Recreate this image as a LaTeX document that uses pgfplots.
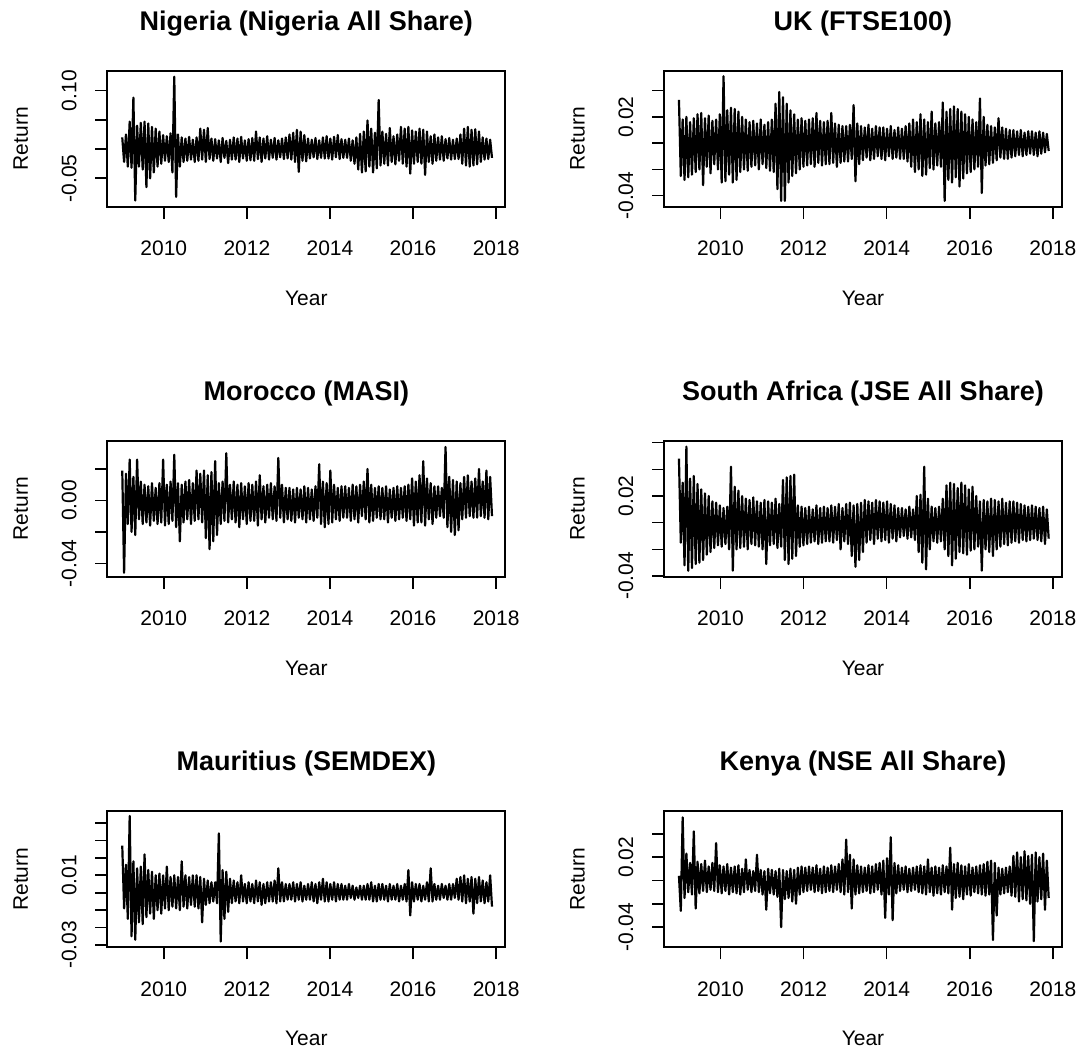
\documentclass[border=0pt]{standalone}
\usepackage{fontspec}
\setmainfont{Liberation Sans}
\usepackage{pgfplots}
\usepackage{pgfplotstable}
\pgfplotsset{compat=1.18}

% Daily return series, sampled on a regular grid from 2009.00 to 2017.90 (200 obs.)
\pgfplotstableread[row sep=\\]{
y\\
0.020\\ -0.022\\ 0.025\\ -0.030\\ 0.047\\ -0.032\\ 0.088\\ -0.088\\ 0.040\\ -0.030\\
0.045\\ -0.035\\ 0.047\\ -0.065\\ 0.044\\ -0.050\\ 0.038\\ -0.040\\ 0.035\\ -0.030\\
0.030\\ -0.025\\ 0.024\\ -0.020\\ 0.022\\ -0.022\\ 0.027\\ -0.040\\ 0.124\\ -0.082\\
0.025\\ -0.030\\ 0.020\\ -0.022\\ 0.018\\ -0.020\\ 0.021\\ -0.018\\ 0.016\\ -0.022\\
0.020\\ -0.020\\ 0.035\\ -0.018\\ 0.033\\ -0.022\\ 0.036\\ -0.017\\ 0.018\\ -0.020\\
0.017\\ -0.016\\ 0.015\\ -0.022\\ 0.019\\ -0.015\\ 0.014\\ -0.024\\ 0.016\\ -0.018\\
0.020\\ -0.018\\ 0.018\\ -0.022\\ 0.021\\ -0.016\\ 0.015\\ -0.020\\ 0.017\\ -0.019\\
0.019\\ -0.020\\ 0.030\\ -0.017\\ 0.020\\ -0.022\\ 0.018\\ -0.016\\ 0.022\\ -0.018\\
0.016\\ -0.015\\ 0.019\\ -0.018\\ 0.015\\ -0.014\\ 0.018\\ -0.017\\ 0.020\\ -0.016\\
0.025\\ -0.018\\ 0.028\\ -0.022\\ 0.033\\ -0.039\\ 0.030\\ -0.020\\ 0.024\\ -0.021\\
0.018\\ -0.016\\ 0.016\\ -0.014\\ 0.019\\ -0.017\\ 0.015\\ -0.015\\ 0.020\\ -0.016\\
0.022\\ -0.016\\ 0.018\\ -0.018\\ 0.021\\ -0.014\\ 0.024\\ -0.017\\ 0.017\\ -0.015\\
0.016\\ -0.015\\ 0.018\\ -0.020\\ 0.015\\ -0.025\\ 0.020\\ -0.035\\ 0.026\\ -0.040\\
0.030\\ -0.038\\ 0.049\\ -0.030\\ 0.035\\ -0.040\\ 0.028\\ -0.033\\ 0.084\\ -0.028\\
0.030\\ -0.025\\ 0.026\\ -0.028\\ 0.036\\ -0.022\\ 0.022\\ -0.026\\ 0.025\\ -0.020\\
0.038\\ -0.025\\ 0.035\\ -0.030\\ 0.038\\ -0.042\\ 0.032\\ -0.025\\ 0.030\\ -0.022\\
0.035\\ -0.025\\ 0.033\\ -0.044\\ 0.030\\ -0.022\\ 0.022\\ -0.025\\ 0.025\\ -0.020\\
0.020\\ -0.018\\ 0.022\\ -0.020\\ 0.017\\ -0.016\\ 0.019\\ -0.018\\ 0.016\\ -0.017\\
0.018\\ -0.017\\ 0.025\\ -0.025\\ 0.035\\ -0.028\\ 0.038\\ -0.030\\ 0.033\\ -0.028\\
0.034\\ -0.026\\ 0.030\\ -0.022\\ 0.020\\ -0.018\\ 0.018\\ -0.017\\ 0.016\\ -0.015\\
}\nigeria

\pgfplotstableread[row sep=\\]{
y\\
0.033\\ -0.025\\ 0.018\\ -0.028\\ 0.020\\ -0.026\\ 0.016\\ -0.024\\ 0.019\\ -0.022\\
0.022\\ -0.020\\ 0.023\\ -0.032\\ 0.019\\ -0.018\\ 0.021\\ -0.023\\ 0.017\\ -0.016\\
0.018\\ -0.020\\ 0.022\\ -0.030\\ 0.051\\ -0.029\\ 0.025\\ -0.024\\ 0.027\\ -0.030\\
0.026\\ -0.028\\ 0.024\\ -0.022\\ 0.020\\ -0.020\\ 0.018\\ -0.021\\ 0.016\\ -0.018\\
0.017\\ -0.017\\ 0.015\\ -0.020\\ 0.018\\ -0.016\\ 0.014\\ -0.019\\ 0.016\\ -0.021\\
0.018\\ -0.022\\ 0.030\\ -0.035\\ 0.039\\ -0.044\\ 0.035\\ -0.044\\ 0.030\\ -0.030\\
0.025\\ -0.025\\ 0.022\\ -0.023\\ 0.018\\ -0.020\\ 0.019\\ -0.018\\ 0.017\\ -0.017\\
0.018\\ -0.016\\ 0.019\\ -0.018\\ 0.023\\ -0.015\\ 0.017\\ -0.017\\ 0.016\\ -0.016\\
0.017\\ -0.016\\ 0.023\\ -0.015\\ 0.015\\ -0.018\\ 0.014\\ -0.015\\ 0.013\\ -0.014\\
0.013\\ -0.014\\ 0.014\\ -0.012\\ 0.029\\ -0.029\\ 0.015\\ -0.016\\ 0.013\\ -0.013\\
0.012\\ -0.011\\ 0.014\\ -0.013\\ 0.011\\ -0.012\\ 0.013\\ -0.010\\ 0.012\\ -0.012\\
0.012\\ -0.013\\ 0.011\\ -0.010\\ 0.013\\ -0.012\\ 0.010\\ -0.011\\ 0.012\\ -0.012\\
0.011\\ -0.012\\ 0.013\\ -0.014\\ 0.015\\ -0.018\\ 0.018\\ -0.022\\ 0.016\\ -0.020\\
0.022\\ -0.025\\ 0.018\\ -0.024\\ 0.016\\ -0.019\\ 0.024\\ -0.020\\ 0.015\\ -0.017\\
0.016\\ -0.018\\ 0.031\\ -0.044\\ 0.024\\ -0.028\\ 0.026\\ -0.030\\ 0.028\\ -0.026\\
0.026\\ -0.033\\ 0.024\\ -0.027\\ 0.022\\ -0.023\\ 0.020\\ -0.022\\ 0.018\\ -0.020\\
0.016\\ -0.018\\ 0.034\\ -0.038\\ 0.020\\ -0.017\\ 0.014\\ -0.016\\ 0.013\\ -0.015\\
0.012\\ -0.013\\ 0.019\\ -0.011\\ 0.012\\ -0.012\\ 0.011\\ -0.012\\ 0.010\\ -0.011\\
0.010\\ -0.010\\ 0.009\\ -0.009\\ 0.010\\ -0.010\\ 0.008\\ -0.009\\ 0.009\\ -0.008\\
0.009\\ -0.009\\ 0.008\\ -0.010\\ 0.009\\ -0.008\\ 0.008\\ -0.007\\ 0.007\\ -0.006\\
}\uk

\pgfplotstableread[row sep=\\]{
y\\
0.019\\ -0.046\\ 0.017\\ -0.015\\ 0.026\\ -0.020\\ 0.015\\ -0.022\\ 0.026\\ -0.012\\
0.012\\ -0.015\\ 0.010\\ -0.014\\ 0.009\\ -0.016\\ 0.011\\ -0.013\\ 0.008\\ -0.015\\
0.011\\ -0.014\\ 0.026\\ -0.016\\ 0.010\\ -0.015\\ 0.012\\ -0.013\\ 0.029\\ -0.017\\
0.011\\ -0.026\\ 0.010\\ -0.014\\ 0.012\\ -0.012\\ 0.013\\ -0.015\\ 0.011\\ -0.013\\
0.019\\ -0.012\\ 0.017\\ -0.014\\ 0.019\\ -0.024\\ 0.016\\ -0.031\\ 0.018\\ -0.026\\
0.025\\ -0.022\\ 0.011\\ -0.015\\ 0.012\\ -0.013\\ 0.030\\ -0.014\\ 0.010\\ -0.012\\
0.012\\ -0.014\\ 0.010\\ -0.017\\ 0.011\\ -0.012\\ 0.009\\ -0.015\\ 0.011\\ -0.013\\
0.010\\ -0.013\\ 0.012\\ -0.016\\ 0.016\\ -0.012\\ 0.009\\ -0.014\\ 0.010\\ -0.011\\
0.011\\ -0.012\\ 0.009\\ -0.013\\ 0.027\\ -0.011\\ 0.010\\ -0.014\\ 0.008\\ -0.012\\
0.008\\ -0.013\\ 0.007\\ -0.014\\ 0.008\\ -0.011\\ 0.007\\ -0.012\\ 0.009\\ -0.014\\
0.008\\ -0.012\\ 0.007\\ -0.013\\ 0.009\\ -0.011\\ 0.023\\ -0.015\\ 0.012\\ -0.017\\
0.011\\ -0.015\\ 0.019\\ -0.014\\ 0.010\\ -0.012\\ 0.008\\ -0.013\\ 0.009\\ -0.011\\
0.009\\ -0.011\\ 0.008\\ -0.013\\ 0.010\\ -0.012\\ 0.009\\ -0.014\\ 0.010\\ -0.010\\
0.012\\ -0.012\\ 0.020\\ -0.014\\ 0.010\\ -0.013\\ 0.008\\ -0.011\\ 0.009\\ -0.012\\
0.008\\ -0.012\\ 0.009\\ -0.014\\ 0.007\\ -0.011\\ 0.008\\ -0.013\\ 0.009\\ -0.012\\
0.008\\ -0.011\\ 0.009\\ -0.013\\ 0.010\\ -0.012\\ 0.014\\ -0.016\\ 0.012\\ -0.014\\
0.016\\ -0.014\\ 0.025\\ -0.016\\ 0.014\\ -0.012\\ 0.011\\ -0.015\\ 0.009\\ -0.011\\
0.009\\ -0.010\\ 0.008\\ -0.011\\ 0.034\\ -0.017\\ 0.015\\ -0.020\\ 0.013\\ -0.022\\
0.012\\ -0.019\\ 0.011\\ -0.012\\ 0.015\\ -0.011\\ 0.016\\ -0.010\\ 0.012\\ -0.011\\
0.014\\ -0.011\\ 0.020\\ -0.010\\ 0.012\\ -0.011\\ 0.019\\ -0.012\\ 0.015\\ -0.010\\
}\morocco

\pgfplotstableread[row sep=\\]{
y\\
0.048\\ -0.015\\ 0.030\\ -0.032\\ 0.057\\ -0.036\\ 0.033\\ -0.034\\ 0.035\\ -0.031\\
0.029\\ -0.030\\ 0.025\\ -0.028\\ 0.022\\ -0.024\\ 0.020\\ -0.022\\ 0.016\\ -0.019\\
0.015\\ -0.017\\ 0.013\\ -0.018\\ 0.011\\ -0.016\\ 0.012\\ -0.020\\ 0.042\\ -0.036\\
0.027\\ -0.020\\ 0.024\\ -0.019\\ 0.020\\ -0.018\\ 0.018\\ -0.020\\ 0.017\\ -0.016\\
0.019\\ -0.017\\ 0.016\\ -0.018\\ 0.015\\ -0.020\\ 0.017\\ -0.031\\ 0.016\\ -0.017\\
0.015\\ -0.016\\ 0.018\\ -0.019\\ 0.014\\ -0.018\\ 0.032\\ -0.028\\ 0.034\\ -0.031\\
0.035\\ -0.027\\ 0.036\\ -0.025\\ 0.013\\ -0.018\\ 0.012\\ -0.017\\ 0.011\\ -0.016\\
0.012\\ -0.015\\ 0.010\\ -0.014\\ 0.013\\ -0.016\\ 0.011\\ -0.015\\ 0.012\\ -0.014\\
0.011\\ -0.014\\ 0.013\\ -0.015\\ 0.012\\ -0.013\\ 0.014\\ -0.020\\ 0.011\\ -0.014\\
0.014\\ -0.016\\ 0.015\\ -0.025\\ 0.013\\ -0.033\\ 0.014\\ -0.028\\ 0.015\\ -0.022\\
0.017\\ -0.015\\ 0.016\\ -0.013\\ 0.015\\ -0.016\\ 0.017\\ -0.012\\ 0.016\\ -0.014\\
0.015\\ -0.013\\ 0.016\\ -0.015\\ 0.014\\ -0.012\\ 0.013\\ -0.014\\ 0.011\\ -0.011\\
0.011\\ -0.010\\ 0.010\\ -0.012\\ 0.012\\ -0.011\\ 0.010\\ -0.013\\ 0.020\\ -0.022\\
0.021\\ -0.030\\ 0.042\\ -0.035\\ 0.018\\ -0.020\\ 0.012\\ -0.014\\ 0.011\\ -0.015\\
0.012\\ -0.014\\ 0.018\\ -0.020\\ 0.028\\ -0.025\\ 0.030\\ -0.032\\ 0.029\\ -0.027\\
0.026\\ -0.022\\ 0.030\\ -0.023\\ 0.028\\ -0.024\\ 0.025\\ -0.021\\ 0.027\\ -0.020\\
0.020\\ -0.018\\ 0.016\\ -0.036\\ 0.017\\ -0.020\\ 0.016\\ -0.022\\ 0.018\\ -0.025\\
0.017\\ -0.020\\ 0.016\\ -0.018\\ 0.018\\ -0.016\\ 0.015\\ -0.017\\ 0.016\\ -0.015\\
0.016\\ -0.014\\ 0.015\\ -0.015\\ 0.014\\ -0.013\\ 0.013\\ -0.014\\ 0.012\\ -0.013\\
0.013\\ -0.012\\ 0.012\\ -0.013\\ 0.011\\ -0.014\\ 0.012\\ -0.016\\ 0.010\\ -0.012\\
}\safrica

\pgfplotstableread[row sep=\\]{
y\\
0.027\\ -0.009\\ 0.016\\ -0.015\\ 0.044\\ -0.025\\ 0.018\\ -0.027\\ 0.014\\ -0.017\\
0.015\\ -0.018\\ 0.022\\ -0.014\\ 0.013\\ -0.012\\ 0.012\\ -0.015\\ 0.010\\ -0.010\\
0.011\\ -0.012\\ 0.010\\ -0.009\\ 0.015\\ -0.010\\ 0.009\\ -0.008\\ 0.010\\ -0.009\\
0.009\\ -0.010\\ 0.018\\ -0.008\\ 0.010\\ -0.009\\ 0.009\\ -0.007\\ 0.010\\ -0.008\\
0.010\\ -0.009\\ 0.009\\ -0.017\\ 0.008\\ -0.007\\ 0.007\\ -0.006\\ 0.006\\ -0.005\\
0.006\\ -0.006\\ 0.034\\ -0.028\\ 0.013\\ -0.015\\ 0.012\\ -0.011\\ 0.008\\ -0.006\\
0.007\\ -0.005\\ 0.006\\ -0.006\\ 0.010\\ -0.005\\ 0.005\\ -0.006\\ 0.006\\ -0.005\\
0.005\\ -0.006\\ 0.007\\ -0.005\\ 0.006\\ -0.007\\ 0.005\\ -0.006\\ 0.006\\ -0.005\\
0.006\\ -0.005\\ 0.007\\ -0.006\\ 0.014\\ -0.005\\ 0.006\\ -0.005\\ 0.005\\ -0.004\\
0.005\\ -0.004\\ 0.006\\ -0.005\\ 0.005\\ -0.004\\ 0.006\\ -0.005\\ 0.004\\ -0.004\\
0.005\\ -0.004\\ 0.006\\ -0.005\\ 0.005\\ -0.006\\ 0.006\\ -0.004\\ 0.008\\ -0.005\\
0.006\\ -0.005\\ 0.005\\ -0.004\\ 0.006\\ -0.005\\ 0.005\\ -0.004\\ 0.005\\ -0.004\\
0.004\\ -0.004\\ 0.005\\ -0.003\\ 0.004\\ -0.004\\ 0.003\\ -0.003\\ 0.004\\ -0.004\\
0.004\\ -0.004\\ 0.005\\ -0.004\\ 0.006\\ -0.005\\ 0.004\\ -0.005\\ 0.005\\ -0.004\\
0.005\\ -0.004\\ 0.004\\ -0.005\\ 0.005\\ -0.004\\ 0.004\\ -0.004\\ 0.005\\ -0.005\\
0.004\\ -0.004\\ 0.005\\ -0.005\\ 0.013\\ -0.013\\ 0.006\\ -0.005\\ 0.005\\ -0.004\\
0.005\\ -0.005\\ 0.004\\ -0.004\\ 0.006\\ -0.005\\ 0.014\\ -0.005\\ 0.005\\ -0.004\\
0.004\\ -0.004\\ 0.005\\ -0.003\\ 0.004\\ -0.004\\ 0.005\\ -0.004\\ 0.005\\ -0.003\\
0.008\\ -0.004\\ 0.009\\ -0.005\\ 0.010\\ -0.006\\ 0.008\\ -0.005\\ 0.009\\ -0.012\\
0.008\\ -0.006\\ 0.009\\ -0.005\\ 0.007\\ -0.006\\ 0.006\\ -0.005\\ 0.010\\ -0.008\\
}\mauritius

\pgfplotstableread[row sep=\\]{
y\\
0.004\\ -0.026\\ 0.054\\ -0.015\\ 0.023\\ -0.010\\ 0.015\\ -0.012\\ 0.042\\ -0.024\\
0.016\\ -0.011\\ 0.014\\ -0.009\\ 0.017\\ -0.010\\ 0.012\\ -0.008\\ 0.015\\ -0.009\\
0.032\\ -0.010\\ 0.013\\ -0.011\\ 0.012\\ -0.009\\ 0.014\\ -0.012\\ 0.011\\ -0.010\\
0.012\\ -0.011\\ 0.013\\ -0.012\\ 0.010\\ -0.010\\ 0.018\\ -0.008\\ 0.009\\ -0.010\\
0.008\\ -0.009\\ 0.022\\ -0.010\\ 0.009\\ -0.012\\ 0.008\\ -0.025\\ 0.010\\ -0.011\\
0.009\\ -0.012\\ 0.008\\ -0.014\\ 0.010\\ -0.040\\ 0.009\\ -0.016\\ 0.008\\ -0.015\\
0.010\\ -0.018\\ 0.009\\ -0.020\\ 0.011\\ -0.012\\ 0.012\\ -0.010\\ 0.011\\ -0.009\\
0.012\\ -0.008\\ 0.011\\ -0.010\\ 0.013\\ -0.009\\ 0.010\\ -0.011\\ 0.012\\ -0.010\\
0.011\\ -0.009\\ 0.013\\ -0.010\\ 0.012\\ -0.008\\ 0.014\\ -0.010\\ 0.018\\ -0.012\\
0.035\\ -0.010\\ 0.022\\ -0.024\\ 0.018\\ -0.012\\ 0.013\\ -0.011\\ 0.012\\ -0.010\\
0.011\\ -0.009\\ 0.013\\ -0.011\\ 0.012\\ -0.010\\ 0.014\\ -0.008\\ 0.015\\ -0.012\\
0.017\\ -0.032\\ 0.019\\ -0.012\\ 0.037\\ -0.034\\ 0.015\\ -0.011\\ 0.013\\ -0.009\\
0.011\\ -0.008\\ 0.012\\ -0.010\\ 0.010\\ -0.009\\ 0.011\\ -0.008\\ 0.012\\ -0.010\\
0.013\\ -0.011\\ 0.012\\ -0.012\\ 0.018\\ -0.010\\ 0.011\\ -0.013\\ 0.012\\ -0.011\\
0.011\\ -0.012\\ 0.013\\ -0.010\\ 0.012\\ -0.011\\ 0.028\\ -0.025\\ 0.014\\ -0.015\\
0.015\\ -0.014\\ 0.013\\ -0.016\\ 0.012\\ -0.012\\ 0.014\\ -0.013\\ 0.011\\ -0.010\\
0.012\\ -0.011\\ 0.013\\ -0.012\\ 0.014\\ -0.013\\ 0.016\\ -0.012\\ 0.017\\ -0.051\\
0.015\\ -0.030\\ 0.011\\ -0.012\\ 0.010\\ -0.011\\ 0.011\\ -0.010\\ 0.012\\ -0.013\\
0.021\\ -0.014\\ 0.024\\ -0.018\\ 0.020\\ -0.016\\ 0.025\\ -0.017\\ 0.021\\ -0.020\\
0.022\\ -0.052\\ 0.024\\ -0.018\\ 0.020\\ -0.016\\ 0.023\\ -0.025\\ 0.017\\ -0.015\\
}\kenya

\pgfplotsset{
  rplot/.style={
    scale only axis, width=199pt, height=68pt,
    anchor=south west,
    xmin=2008.64, xmax=2018.22,
    xtick={2010,2012,2014,2016,2018},
    xticklabels={2010,2012,2014,2016,2018},
    tick align=outside, major tick length=6pt,
    xtick pos=left, ytick pos=left,
    every tick/.style={black, line width=0.8pt},
    axis line style={black, line width=0.9pt},
    tick label style={font=\fontsize{10.5}{12}\selectfont, inner sep=0pt},
    xticklabel style={anchor=base},
    yticklabel style={rotate=90, anchor=base},
    xticklabel shift=18.5pt,
    yticklabel shift=9.5pt,
    scaled y ticks=false,
    xlabel={Year}, ylabel={Return},
    label style={font=\fontsize{10.5}{12}\selectfont, inner sep=0pt},
    xlabel style={at={([yshift=-49.25pt]axis description cs:0.5,0)}, anchor=base},
    ylabel style={at={([xshift=-39.75pt]axis description cs:0,0.5)}, anchor=base},
    title style={at={([yshift=14.2pt]axis description cs:0.5,1)}, anchor=base,
      font=\fontsize{13.5}{16}\selectfont\bfseries, inner sep=0pt},
  },
  ser/.style={black, line width=1.1pt, mark=none, sharp plot, line join=round},
}

\begin{document}
\begin{tikzpicture}
\useasboundingbox (0,0) rectangle (541.5pt,525pt);

\begin{axis}[rplot, at={(53.65pt,421.65pt)},
  title={Nigeria (Nigeria All Share)},
  ymin=-0.0986, ymax=0.1342,
  ytick={-0.05,0,0.05,0.10}, yticklabels={-0.05,{},{},0.10}]
\addplot[ser] table[x expr={2009+\coordindex*0.044724}, y=y] {\nigeria};
\end{axis}

\begin{axis}[rplot, at={(332pt,421.65pt)},
  title={UK (FTSE100)},
  ymin=-0.0484, ymax=0.0552,
  ytick={-0.04,-0.02,0,0.02,0.04}, yticklabels={-0.04,{},{},0.02,{}}]
\addplot[ser] table[x expr={2009+\coordindex*0.044724}, y=y] {\uk};
\end{axis}

\begin{axis}[rplot, at={(53.65pt,236.65pt)},
  title={Morocco (MASI)},
  ymin=-0.0485, ymax=0.038,
  ytick={-0.04,-0.02,0,0.02}, yticklabels={-0.04,{},0.00,{}}]
\addplot[ser] table[x expr={2009+\coordindex*0.044724}, y=y] {\morocco};
\end{axis}

\begin{axis}[rplot, at={(332pt,236.65pt)},
  title={South Africa (JSE All Share)},
  ymin=-0.0405, ymax=0.0615,
  ytick={-0.04,-0.02,0,0.02,0.04,0.06}, yticklabels={-0.04,{},{},0.02,{},{}}]
\addplot[ser] table[x expr={2009+\coordindex*0.044724}, y=y] {\safrica};
\end{axis}

\begin{axis}[rplot, at={(53.65pt,51.35pt)},
  title={Mauritius (SEMDEX)},
  ymin=-0.0313, ymax=0.0467,
  ytick={-0.03,-0.02,-0.01,0,0.01,0.02,0.03,0.04}, yticklabels={-0.03,{},{},{},0.01,{},{},{}}]
\addplot[ser] table[x expr={2009+\coordindex*0.044724}, y=y] {\mauritius};
\end{axis}

\begin{axis}[rplot, at={(332pt,51.35pt)},
  title={Kenya (NSE All Share)},
  ymin=-0.0572, ymax=0.0592,
  ytick={-0.04,-0.02,0,0.02,0.04}, yticklabels={-0.04,{},{},0.02,{}}]
\addplot[ser] table[x expr={2009+\coordindex*0.044724}, y=y] {\kenya};
\end{axis}
\end{tikzpicture}
\end{document}
